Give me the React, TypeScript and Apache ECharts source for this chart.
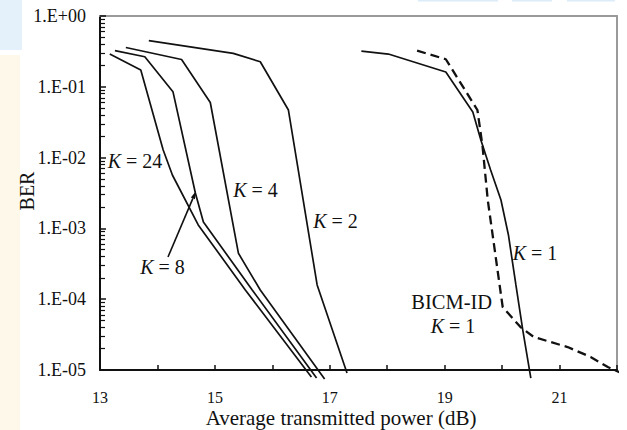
import React, { useEffect, useRef } from "react";
import * as echarts from "echarts";

// ---- data ----
const xTickLabels = [13, 15, 17, 19, 21];
const yTickLabels = ["1.E-05", "1.E-04", "1.E-03", "1.E-02", "1.E-01", "1.E+00"];

const k24Power = [13.17, 13.71, 14.1, 14.26, 14.71, 15.53, 16.68];
const k24Ber = [0.29, 0.173, 0.0128, 0.00568, 0.00112, 1.35e-4, 7.96e-6];

const k8Power = [13.26, 13.78, 14.27, 14.66, 14.8, 15.65, 16.77];
const k8Ber = [0.324, 0.266, 0.0853, 0.00316, 0.00123, 1.35e-4, 7.7e-6];

const k4Power = [13.45, 14.42, 14.92, 15.41, 15.79, 16.91];
const k4Ber = [0.359, 0.243, 0.06, 4.45e-4, 1.35e-4, 7.46e-6];

const k2Power = [13.85, 15.32, 15.79, 16.28, 16.78, 17.3];
const k2Ber = [0.448, 0.297, 0.226, 0.047, 1.59e-4, 9.1e-6];

const k1Power = [17.55, 18.02, 19.02, 19.49, 19.63, 19.8, 19.98, 20.11, 20.24, 20.36, 20.5];
const k1Ber = [0.32, 0.29, 0.162, 0.044, 0.0177, 0.00668, 0.00252, 8.07e-4, 1.59e-4, 3.67e-5, 7.7e-6];

const bicmPower = [18.52, 19.02, 19.57, 19.66, 19.75, 20.01, 20.32, 20.55, 21.14, 21.54, 21.84, 22.15];
const bicmBer = [0.324, 0.245, 0.047, 0.0143, 0.00252, 7.76e-5, 4.04e-5, 2.93e-5, 2.11e-5, 1.53e-5, 1.1e-5, 8.5e-6];

const FONT = "'Liberation Serif', 'Times New Roman', serif";

function pairs(xs: number[], ys: number[]) {
  return xs.map((x, i) => [x, ys[i]]);
}

function kText(x: number, y: number, rest: string) {
  return {
    type: "text",
    x,
    y,
    z: 10,
    style: {
      text: "{i|K}{n| " + rest + "}",
      align: "center",
      verticalAlign: "middle",
      fill: "#111",
      fontFamily: FONT,
      fontSize: 20,
      rich: {
        i: { fontStyle: "italic", fontFamily: FONT, fontSize: 20, fill: "#111" },
        n: { fontFamily: FONT, fontSize: 20, fill: "#111" },
      },
    },
  };
}

const frameAxis = {
  axisLine: { show: true, lineStyle: { color: "#9a9a9a", width: 2 } },
  axisTick: { show: false },
  axisLabel: { show: false },
  splitLine: { show: false },
};

export default function App() {
  const ref = useRef<HTMLDivElement>(null);

  useEffect(() => {
    if (!ref.current) return;
    const chart = echarts.init(ref.current, undefined, { renderer: "svg" });

    const lineSeries = (data: number[][], dashed = false) => ({
      type: "line",
      data,
      symbol: "none",
      clip: false,
      silent: true,
      lineStyle: {
        color: "#111",
        width: dashed ? 2.3 : 1.7,
        type: dashed ? [9, 5] : "solid",
      },
    });

    const dir = [0.389, -0.921];
    const tip = [196, 191];
    const base = [tip[0] - 8 * dir[0], tip[1] - 8 * dir[1]];
    const perp = [0.921, 0.389];

    chart.setOption({
      animation: false,
      grid: { left: 100, right: 10, top: 16, bottom: 60 },
      xAxis: [
        {
          type: "value",
          min: 13,
          max: 22,
          interval: 1,
          position: "bottom",
          axisLine: { show: true, lineStyle: { color: "#111", width: 2 } },
          axisTick: { show: true, inside: true, length: 5, lineStyle: { color: "#111", width: 1.5 } },
          splitLine: { show: false },
          axisLabel: {
            margin: 19,
            fontFamily: FONT,
            fontSize: 16,
            color: "#111",
            formatter: (v: number) => (xTickLabels.indexOf(v) >= 0 ? String(v) : ""),
          },
        },
        { type: "value", min: 13, max: 22, position: "top", ...frameAxis },
      ],
      yAxis: [
        {
          type: "log",
          logBase: 10,
          min: 1e-5,
          max: 1,
          position: "left",
          axisLine: { show: true, lineStyle: { color: "#111", width: 2 } },
          axisTick: { show: true, inside: true, length: 6, lineStyle: { color: "#111", width: 1.5 } },
          minorTick: { show: true, splitNumber: 9, length: 5, lineStyle: { color: "#111", width: 1.2 } },
          splitLine: { show: false },
          minorSplitLine: { show: false },
          axisLabel: {
            margin: 14,
            fontFamily: FONT,
            fontSize: 18,
            color: "#111",
            formatter: (v: number) => yTickLabels[Math.round(Math.log10(v)) + 5] ?? "",
          },
        },
        { type: "value", min: 0, max: 1, position: "right", ...frameAxis },
      ],
      series: [
        lineSeries(pairs(k24Power, k24Ber)),
        lineSeries(pairs(k8Power, k8Ber)),
        lineSeries(pairs(k4Power, k4Ber)),
        lineSeries(pairs(k2Power, k2Ber)),
        lineSeries(pairs(k1Power, k1Ber)),
        lineSeries(pairs(bicmPower, bicmBer), true),
      ],
      graphic: [
        { type: "rect", shape: { x: 0, y: 0, width: 22, height: 50 }, style: { fill: "#e4f1fb" }, z: -1 },
        { type: "rect", shape: { x: 0, y: 55, width: 20, height: 375 }, style: { fill: "#fdf8e9" }, z: -1 },
        { type: "rect", shape: { x: 418, y: 0, width: 80, height: 1.5 }, style: { fill: "#dcecf9" }, z: -1 },
        { type: "rect", shape: { x: 512, y: 0, width: 40, height: 1.5 }, style: { fill: "#dcecf9" }, z: -1 },
        { type: "rect", shape: { x: 567, y: 0, width: 48, height: 1.5 }, style: { fill: "#dcecf9" }, z: -1 },
        {
          type: "text",
          x: 341,
          y: 418,
          style: {
            text: "Average transmitted power (dB)",
            align: "center",
            verticalAlign: "middle",
            fontFamily: FONT,
            fontSize: 21,
            fill: "#111",
          },
        },
        {
          type: "text",
          x: 27,
          y: 191,
          rotation: Math.PI / 2,
          style: {
            text: "BER",
            align: "center",
            verticalAlign: "middle",
            fontFamily: FONT,
            fontSize: 20,
            fill: "#111",
          },
        },
        kText(135, 161, "= 24"),
        kText(255.5, 190, "= 4"),
        kText(335.5, 221, "= 2"),
        kText(162.5, 267, "= 8"),
        kText(535, 253, "= 1"),
        kText(453, 326, "= 1"),
        {
          type: "text",
          x: 451.7,
          y: 301.7,
          z: 10,
          style: {
            text: "BICM-ID",
            align: "center",
            verticalAlign: "middle",
            fontFamily: FONT,
            fontSize: 20.5,
            fill: "#111",
          },
        },
        {
          type: "line",
          z: 10,
          shape: { x1: 168, y1: 257, x2: base[0], y2: base[1] },
          style: { stroke: "#111", lineWidth: 1.6 },
        },
        {
          type: "polygon",
          z: 10,
          shape: {
            points: [
              tip,
              [base[0] + 2.2 * perp[0], base[1] + 2.2 * perp[1]],
              [base[0] - 2.2 * perp[0], base[1] - 2.2 * perp[1]],
            ],
          },
          style: { fill: "#111" },
        },
      ],
    });

    return () => chart.dispose();
  }, []);

  return (
    <div
      ref={ref}
      style={{ position: "fixed", left: 0, top: 0, width: 627, height: 430, background: "#fff" }}
    />
  );
}
